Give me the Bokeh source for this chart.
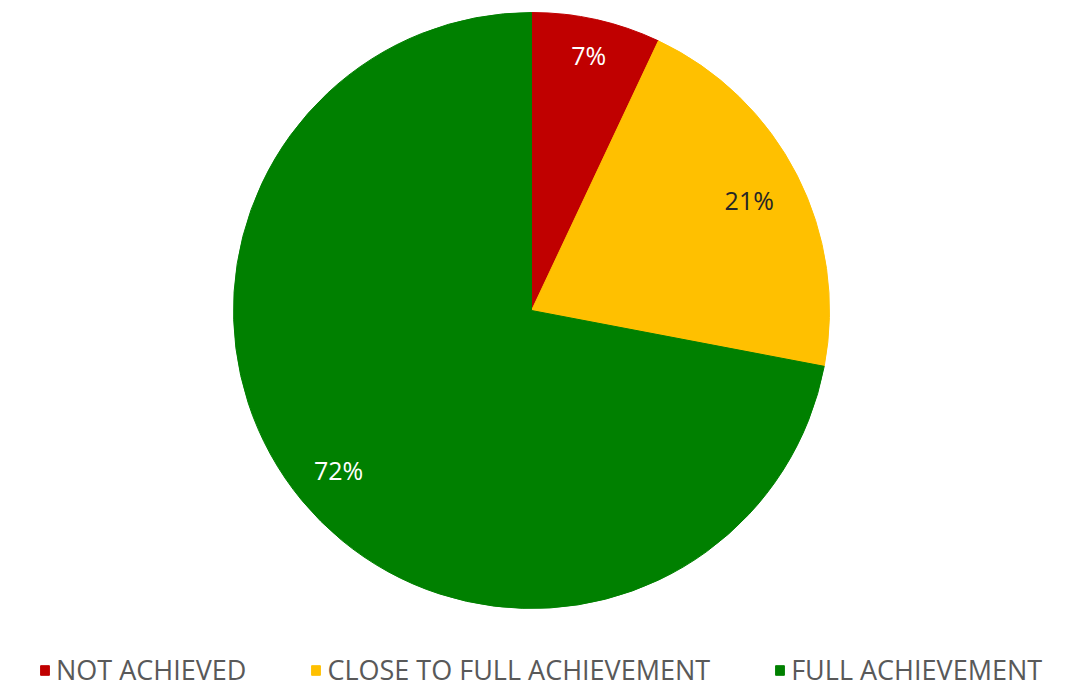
import numpy as np
from bokeh.plotting import figure
from bokeh.models import Range1d, ColumnDataSource, Legend, LegendItem
from bokeh.embed import file_html
from bokeh.resources import INLINE
from bokeh.core.properties import value

categories = ["NOT ACHIEVED", "CLOSE TO FULL ACHIEVEMENT", "FULL ACHIEVEMENT"]
values = [7, 21, 72]
colors = ["#C00000", "#FFC000", "#008000"]
label_colors = ["#FFFFFF", "#262626", "#FFFFFF"]
label_radius = [0.88, 0.82, 0.84]   # fraction of the pie radius (layout)

W, H = 1049, 688
cx, cy, R = 531, H - 310, 298

frac = np.array(values, dtype=float) / sum(values)
cum = np.concatenate([[0.0], np.cumsum(frac)])
start = np.pi / 2 - cum[:-1] * 2 * np.pi
end = np.pi / 2 - cum[1:] * 2 * np.pi
mid = (start + end) / 2
lr = np.array(label_radius) * R

src = ColumnDataSource(dict(
    cat=categories, val=values, color=colors, start=start, end=end,
    x=[cx] * 3, y=[cy] * 3,
    lx=cx + lr * np.cos(mid), ly=cy + lr * np.sin(mid),
    lab=[f"{v}%" for v in values], lcol=label_colors,
))

p = figure(width=W, height=H, x_range=Range1d(0, W), y_range=Range1d(0, H),
           output_backend="svg", toolbar_location=None, min_border=0)
p.axis.visible = False
p.grid.visible = False
p.outline_line_color = None
p.background_fill_color = "white"

r = p.wedge(x="x", y="y", radius=R, start_angle="start", end_angle="end",
            direction="clock", fill_color="color", line_color="color", source=src)

p.text(x="lx", y="ly", text="lab", text_color="lcol", text_font=value("Open Sans"),
       text_font_size="25px", text_align="center", text_baseline="middle", source=src)

items = [LegendItem(label=c, renderers=[r], index=i) for i, c in enumerate(categories)]
leg = Legend(items=items, orientation="horizontal", location=(39, 0),
             glyph_width=11, glyph_height=12, label_standoff=6, spacing=64,
             padding=0, margin=0, border_line_color=None, background_fill_alpha=0,
             label_text_font="Open Sans", label_text_font_size="27px",
             label_text_color="#595959", label_height=26)
p.add_layout(leg, "center")

open("out.html", "w").write(file_html(p, INLINE))
